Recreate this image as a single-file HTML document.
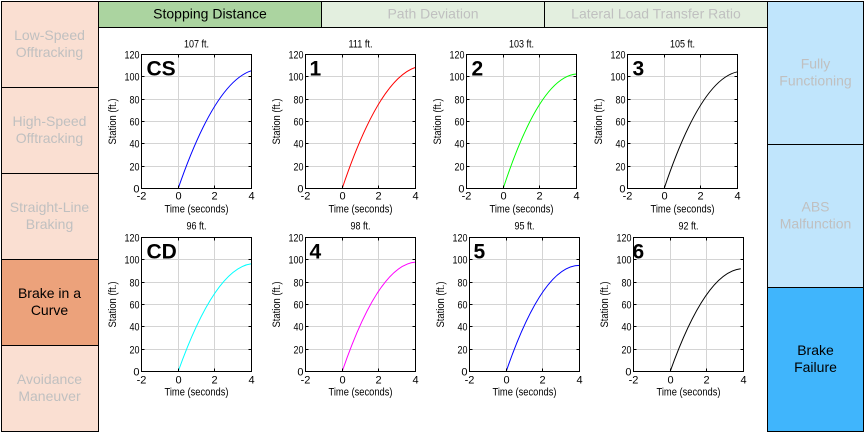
<!DOCTYPE html>
<html><head><meta charset="utf-8"><style>
html,body{margin:0;padding:0;background:#fff;}
svg{display:block;font-family:"Liberation Sans",Arial,sans-serif;}
.t{font-size:11px;fill:#000;}
.k{font-size:11px;fill:#000;}
.big{font-size:21px;font-weight:bold;fill:#000;}
.m{font-size:14px;}
</style></head><body>
<svg width="864" height="432" viewBox="0 0 864 432" xmlns="http://www.w3.org/2000/svg">
<rect width="864" height="432" fill="#fff"/>
<!-- left column -->
<g stroke="#000" stroke-width="1">
<rect x="1.5" y="1.5" width="97" height="86" fill="#fadfd2"/>
<rect x="1.5" y="87.5" width="97" height="86" fill="#fadfd2"/>
<rect x="1.5" y="173.5" width="97" height="86" fill="#fadfd2"/>
<rect x="1.5" y="259.5" width="97" height="86" fill="#eca27b"/>
<rect x="1.5" y="345.5" width="97" height="86" fill="#fadfd2"/>
</g>
<g class="m" text-anchor="middle" fill="#c0c0c0">
<text x="49.5" y="40">Low-Speed</text><text x="49.5" y="57">Offtracking</text>
<text x="49.5" y="126">High-Speed</text><text x="49.5" y="143">Offtracking</text>
<text x="49.5" y="212">Straight-Line</text><text x="49.5" y="229">Braking</text>
<text x="49.5" y="298" fill="#000">Brake in a</text><text x="49.5" y="315" fill="#000">Curve</text>
<text x="49.5" y="384">Avoidance</text><text x="49.5" y="401">Maneuver</text>
</g>
<!-- tabs -->
<g stroke="#000" stroke-width="1">
<rect x="98.5" y="1.5" width="223" height="26" fill="#abd4a0"/>
<rect x="321.5" y="1.5" width="223" height="26" fill="#e3efdf"/>
<rect x="544.5" y="1.5" width="223" height="26" fill="#e3efdf"/>
</g>
<g class="m" text-anchor="middle" fill="#c0c0c0">
<text x="210" y="18.5" fill="#000">Stopping Distance</text>
<text x="433" y="18.5">Path Deviation</text>
<text x="656" y="18.5">Lateral Load Transfer Ratio</text>
</g>
<!-- right column -->
<g stroke="#000" stroke-width="1">
<rect x="767.5" y="1.5" width="96" height="143" fill="#c0e5fc"/>
<rect x="767.5" y="144.5" width="96" height="143" fill="#c0e5fc"/>
<rect x="767.5" y="287.5" width="96" height="144" fill="#40b5fc"/>
</g>
<g class="m" text-anchor="middle" fill="#c0c0c0">
<text x="815.5" y="68.5">Fully</text><text x="815.5" y="85.5">Functioning</text>
<text x="815.5" y="211.5">ABS</text><text x="815.5" y="228.5">Malfunction</text>
<text x="815.5" y="355" fill="#000">Brake</text><text x="815.5" y="372" fill="#000">Failure</text>
</g>

<!-- Plot CS -->
<g transform="translate(141.5,54.5)">
<path d="M37 0V134M73 0V134M0 22H110M0 45H110M0 67H110M0 89H110M0 112H110" stroke="#d4d4d4" fill="none"/>
<path d="M36.67 134Q73.33 27.97 110 16.19" stroke="#0000ff" fill="none"/>
<rect width="110" height="134" fill="none" stroke="#000"/>
<path d="M0 22h3M0 45h3M0 67h3M0 89h3M0 112h3M107 22h3M107 45h3M107 67h3M107 89h3M107 112h3M37 0v3M73 0v3M37 131v3M73 131v3" stroke="#000"/>
<text class="big" x="5" y="21">CS</text>
<text class="t" x="55" y="-7" text-anchor="middle" textLength="25" lengthAdjust="spacingAndGlyphs">107 ft.</text>
<g class="k" text-anchor="end"><text x="-2" y="138">0</text><text x="-2" y="116" textLength="10" lengthAdjust="spacingAndGlyphs">20</text><text x="-2" y="93" textLength="10" lengthAdjust="spacingAndGlyphs">40</text><text x="-2" y="71" textLength="10" lengthAdjust="spacingAndGlyphs">60</text><text x="-2" y="49" textLength="10" lengthAdjust="spacingAndGlyphs">80</text><text x="-2" y="26" textLength="15" lengthAdjust="spacingAndGlyphs">100</text><text x="-2" y="4" textLength="15" lengthAdjust="spacingAndGlyphs">120</text></g>
<g class="k" text-anchor="middle"><text x="0" y="145">-2</text><text x="37" y="145">0</text><text x="73" y="145">2</text><text x="110" y="145">4</text></g>
<text class="t" x="55" y="158" text-anchor="middle" textLength="64" lengthAdjust="spacingAndGlyphs">Time (seconds)</text>
<text class="t" transform="translate(-25.5,67) rotate(-90)" text-anchor="middle" textLength="46" lengthAdjust="spacingAndGlyphs">Station (ft.)</text>
</g>

<!-- Plot 1 -->
<g transform="translate(305.5,54.5)">
<path d="M37 0V134M73 0V134M0 22H110M0 45H110M0 67H110M0 89H110M0 112H110" stroke="#d4d4d4" fill="none"/>
<path d="M36.67 134Q73.33 24.96 110 12.84" stroke="#ff0000" fill="none"/>
<rect width="110" height="134" fill="none" stroke="#000"/>
<path d="M0 22h3M0 45h3M0 67h3M0 89h3M0 112h3M107 22h3M107 45h3M107 67h3M107 89h3M107 112h3M37 0v3M73 0v3M37 131v3M73 131v3" stroke="#000"/>
<text class="big" x="4" y="21">1</text>
<text class="t" x="55" y="-7" text-anchor="middle" textLength="24" lengthAdjust="spacingAndGlyphs">111 ft.</text>
<g class="k" text-anchor="end"><text x="-2" y="138">0</text><text x="-2" y="116" textLength="10" lengthAdjust="spacingAndGlyphs">20</text><text x="-2" y="93" textLength="10" lengthAdjust="spacingAndGlyphs">40</text><text x="-2" y="71" textLength="10" lengthAdjust="spacingAndGlyphs">60</text><text x="-2" y="49" textLength="10" lengthAdjust="spacingAndGlyphs">80</text><text x="-2" y="26" textLength="15" lengthAdjust="spacingAndGlyphs">100</text><text x="-2" y="4" textLength="15" lengthAdjust="spacingAndGlyphs">120</text></g>
<g class="k" text-anchor="middle"><text x="0" y="145">-2</text><text x="37" y="145">0</text><text x="73" y="145">2</text><text x="110" y="145">4</text></g>
<text class="t" x="55" y="158" text-anchor="middle" textLength="64" lengthAdjust="spacingAndGlyphs">Time (seconds)</text>
<text class="t" transform="translate(-25.5,67) rotate(-90)" text-anchor="middle" textLength="46" lengthAdjust="spacingAndGlyphs">Station (ft.)</text>
</g>

<!-- Plot 2 -->
<g transform="translate(466.5,54.5)">
<path d="M37 0V134M73 0V134M0 22H110M0 45H110M0 67H110M0 89H110M0 112H110" stroke="#d4d4d4" fill="none"/>
<path d="M36.67 134Q73.33 22.33 110 19.54" stroke="#00ff00" fill="none"/>
<rect width="110" height="134" fill="none" stroke="#000"/>
<path d="M0 22h3M0 45h3M0 67h3M0 89h3M0 112h3M107 22h3M107 45h3M107 67h3M107 89h3M107 112h3M37 0v3M73 0v3M37 131v3M73 131v3" stroke="#000"/>
<text class="big" x="5" y="21">2</text>
<text class="t" x="55" y="-7" text-anchor="middle" textLength="25" lengthAdjust="spacingAndGlyphs">103 ft.</text>
<g class="k" text-anchor="end"><text x="-2" y="138">0</text><text x="-2" y="116" textLength="10" lengthAdjust="spacingAndGlyphs">20</text><text x="-2" y="93" textLength="10" lengthAdjust="spacingAndGlyphs">40</text><text x="-2" y="71" textLength="10" lengthAdjust="spacingAndGlyphs">60</text><text x="-2" y="49" textLength="10" lengthAdjust="spacingAndGlyphs">80</text><text x="-2" y="26" textLength="15" lengthAdjust="spacingAndGlyphs">100</text><text x="-2" y="4" textLength="15" lengthAdjust="spacingAndGlyphs">120</text></g>
<g class="k" text-anchor="middle"><text x="0" y="145">-2</text><text x="37" y="145">0</text><text x="73" y="145">2</text><text x="110" y="145">4</text></g>
<text class="t" x="55" y="158" text-anchor="middle" textLength="64" lengthAdjust="spacingAndGlyphs">Time (seconds)</text>
<text class="t" transform="translate(-25.5,67) rotate(-90)" text-anchor="middle" textLength="46" lengthAdjust="spacingAndGlyphs">Station (ft.)</text>
</g>

<!-- Plot 3 -->
<g transform="translate(627.5,54.5)">
<path d="M37 0V134M73 0V134M0 22H110M0 45H110M0 67H110M0 89H110M0 112H110" stroke="#d4d4d4" fill="none"/>
<path d="M36.67 134Q73.33 24.9 110 17.31" stroke="#000000" fill="none"/>
<rect width="110" height="134" fill="none" stroke="#000"/>
<path d="M0 22h3M0 45h3M0 67h3M0 89h3M0 112h3M107 22h3M107 45h3M107 67h3M107 89h3M107 112h3M37 0v3M73 0v3M37 131v3M73 131v3" stroke="#000"/>
<text class="big" x="5" y="21">3</text>
<text class="t" x="55" y="-7" text-anchor="middle" textLength="25" lengthAdjust="spacingAndGlyphs">105 ft.</text>
<g class="k" text-anchor="end"><text x="-2" y="138">0</text><text x="-2" y="116" textLength="10" lengthAdjust="spacingAndGlyphs">20</text><text x="-2" y="93" textLength="10" lengthAdjust="spacingAndGlyphs">40</text><text x="-2" y="71" textLength="10" lengthAdjust="spacingAndGlyphs">60</text><text x="-2" y="49" textLength="10" lengthAdjust="spacingAndGlyphs">80</text><text x="-2" y="26" textLength="15" lengthAdjust="spacingAndGlyphs">100</text><text x="-2" y="4" textLength="15" lengthAdjust="spacingAndGlyphs">120</text></g>
<g class="k" text-anchor="middle"><text x="0" y="145">-2</text><text x="37" y="145">0</text><text x="73" y="145">2</text><text x="110" y="145">4</text></g>
<text class="t" x="55" y="158" text-anchor="middle" textLength="64" lengthAdjust="spacingAndGlyphs">Time (seconds)</text>
<text class="t" transform="translate(-25.5,67) rotate(-90)" text-anchor="middle" textLength="46" lengthAdjust="spacingAndGlyphs">Station (ft.)</text>
</g>

<!-- Plot CD -->
<g transform="translate(141.5,237.5)">
<path d="M37 0V134M73 0V134M0 22H110M0 45H110M0 67H110M0 89H110M0 112H110" stroke="#d4d4d4" fill="none"/>
<path d="M36.67 134Q73.33 31.15 110 26.24" stroke="#00ffff" fill="none"/>
<rect width="110" height="134" fill="none" stroke="#000"/>
<path d="M0 22h3M0 45h3M0 67h3M0 89h3M0 112h3M107 22h3M107 45h3M107 67h3M107 89h3M107 112h3M37 0v3M73 0v3M37 131v3M73 131v3" stroke="#000"/>
<text class="big" x="5" y="21">CD</text>
<text class="t" x="55" y="-8" text-anchor="middle" textLength="20" lengthAdjust="spacingAndGlyphs">96 ft.</text>
<g class="k" text-anchor="end"><text x="-2" y="138">0</text><text x="-2" y="116" textLength="10" lengthAdjust="spacingAndGlyphs">20</text><text x="-2" y="93" textLength="10" lengthAdjust="spacingAndGlyphs">40</text><text x="-2" y="71" textLength="10" lengthAdjust="spacingAndGlyphs">60</text><text x="-2" y="49" textLength="10" lengthAdjust="spacingAndGlyphs">80</text><text x="-2" y="26" textLength="15" lengthAdjust="spacingAndGlyphs">100</text><text x="-2" y="4" textLength="15" lengthAdjust="spacingAndGlyphs">120</text></g>
<g class="k" text-anchor="middle"><text x="0" y="146">-2</text><text x="37" y="146">0</text><text x="73" y="146">2</text><text x="110" y="146">4</text></g>
<text class="t" x="55" y="158" text-anchor="middle" textLength="64" lengthAdjust="spacingAndGlyphs">Time (seconds)</text>
<text class="t" transform="translate(-25.5,67) rotate(-90)" text-anchor="middle" textLength="46" lengthAdjust="spacingAndGlyphs">Station (ft.)</text>
</g>

<!-- Plot 4 -->
<g transform="translate(305.5,237.5)">
<path d="M37 0V134M73 0V134M0 22H110M0 45H110M0 67H110M0 89H110M0 112H110" stroke="#d4d4d4" fill="none"/>
<path d="M36.67 134Q73.33 27.25 110 24.57" stroke="#ff00ff" fill="none"/>
<rect width="110" height="134" fill="none" stroke="#000"/>
<path d="M0 22h3M0 45h3M0 67h3M0 89h3M0 112h3M107 22h3M107 45h3M107 67h3M107 89h3M107 112h3M37 0v3M73 0v3M37 131v3M73 131v3" stroke="#000"/>
<text class="big" x="4" y="21">4</text>
<text class="t" x="55" y="-8" text-anchor="middle" textLength="20" lengthAdjust="spacingAndGlyphs">98 ft.</text>
<g class="k" text-anchor="end"><text x="-2" y="138">0</text><text x="-2" y="116" textLength="10" lengthAdjust="spacingAndGlyphs">20</text><text x="-2" y="93" textLength="10" lengthAdjust="spacingAndGlyphs">40</text><text x="-2" y="71" textLength="10" lengthAdjust="spacingAndGlyphs">60</text><text x="-2" y="49" textLength="10" lengthAdjust="spacingAndGlyphs">80</text><text x="-2" y="26" textLength="15" lengthAdjust="spacingAndGlyphs">100</text><text x="-2" y="4" textLength="15" lengthAdjust="spacingAndGlyphs">120</text></g>
<g class="k" text-anchor="middle"><text x="0" y="146">-2</text><text x="37" y="146">0</text><text x="73" y="146">2</text><text x="110" y="146">4</text></g>
<text class="t" x="55" y="158" text-anchor="middle" textLength="64" lengthAdjust="spacingAndGlyphs">Time (seconds)</text>
<text class="t" transform="translate(-25.5,67) rotate(-90)" text-anchor="middle" textLength="46" lengthAdjust="spacingAndGlyphs">Station (ft.)</text>
</g>

<!-- Plot 5 -->
<g transform="translate(469.5,237.5)">
<path d="M37 0V134M73 0V134M0 22H110M0 45H110M0 67H110M0 89H110M0 112H110" stroke="#d4d4d4" fill="none"/>
<path d="M36.67 134Q73.33 27.92 110 27.92" stroke="#0000ff" fill="none"/>
<rect width="110" height="134" fill="none" stroke="#000"/>
<path d="M0 22h3M0 45h3M0 67h3M0 89h3M0 112h3M107 22h3M107 45h3M107 67h3M107 89h3M107 112h3M37 0v3M73 0v3M37 131v3M73 131v3" stroke="#000"/>
<text class="big" x="4" y="21">5</text>
<text class="t" x="55" y="-8" text-anchor="middle" textLength="20" lengthAdjust="spacingAndGlyphs">95 ft.</text>
<g class="k" text-anchor="end"><text x="-2" y="138">0</text><text x="-2" y="116" textLength="10" lengthAdjust="spacingAndGlyphs">20</text><text x="-2" y="93" textLength="10" lengthAdjust="spacingAndGlyphs">40</text><text x="-2" y="71" textLength="10" lengthAdjust="spacingAndGlyphs">60</text><text x="-2" y="49" textLength="10" lengthAdjust="spacingAndGlyphs">80</text><text x="-2" y="26" textLength="15" lengthAdjust="spacingAndGlyphs">100</text><text x="-2" y="4" textLength="15" lengthAdjust="spacingAndGlyphs">120</text></g>
<g class="k" text-anchor="middle"><text x="0" y="146">-2</text><text x="37" y="146">0</text><text x="73" y="146">2</text><text x="110" y="146">4</text></g>
<text class="t" x="55" y="158" text-anchor="middle" textLength="64" lengthAdjust="spacingAndGlyphs">Time (seconds)</text>
<text class="t" transform="translate(-25.5,67) rotate(-90)" text-anchor="middle" textLength="46" lengthAdjust="spacingAndGlyphs">Station (ft.)</text>
</g>

<!-- Plot 6 -->
<g transform="translate(633.5,237.5)">
<path d="M37 0V134M73 0V134M0 22H110M0 45H110M0 67H110M0 89H110M0 112H110" stroke="#d4d4d4" fill="none"/>
<path d="M36.67 134Q71.96 34.95 107.25 31.27" stroke="#000000" fill="none"/>
<rect width="110" height="134" fill="none" stroke="#000"/>
<path d="M0 22h3M0 45h3M0 67h3M0 89h3M0 112h3M107 22h3M107 45h3M107 67h3M107 89h3M107 112h3M37 0v3M73 0v3M37 131v3M73 131v3" stroke="#000"/>
<text class="big" x="-1" y="21">6</text>
<text class="t" x="55" y="-8" text-anchor="middle" textLength="20" lengthAdjust="spacingAndGlyphs">92 ft.</text>
<g class="k" text-anchor="end"><text x="-2" y="138">0</text><text x="-2" y="116" textLength="10" lengthAdjust="spacingAndGlyphs">20</text><text x="-2" y="93" textLength="10" lengthAdjust="spacingAndGlyphs">40</text><text x="-2" y="71" textLength="10" lengthAdjust="spacingAndGlyphs">60</text><text x="-2" y="49" textLength="10" lengthAdjust="spacingAndGlyphs">80</text><text x="-2" y="26" textLength="15" lengthAdjust="spacingAndGlyphs">100</text><text x="-2" y="4" textLength="15" lengthAdjust="spacingAndGlyphs">120</text></g>
<g class="k" text-anchor="middle"><text x="0" y="146">-2</text><text x="37" y="146">0</text><text x="73" y="146">2</text><text x="110" y="146">4</text></g>
<text class="t" x="55" y="158" text-anchor="middle" textLength="64" lengthAdjust="spacingAndGlyphs">Time (seconds)</text>
<text class="t" transform="translate(-25.5,67) rotate(-90)" text-anchor="middle" textLength="46" lengthAdjust="spacingAndGlyphs">Station (ft.)</text>
</g>
</svg>
</body></html>
